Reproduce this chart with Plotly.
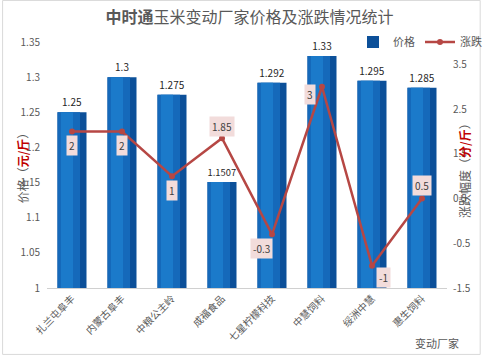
import plotly.graph_objects as go

categories = ["扎兰屯阜丰", "内蒙古阜丰", "中粮公主岭", "成福食品", "七星柠檬科技", "中慧饲料", "绥洲中慧", "惠生饲料"]
prices = [1.25, 1.3, 1.275, 1.1507, 1.292, 1.33, 1.295, 1.285]
price_labels = ["1.25", "1.3", "1.275", "1.1507", "1.292", "1.33", "1.295", "1.285"]
changes = [2, 2, 1, 1.85, -0.3, 3, -1, 0.5]
change_labels = ["2", "2", "1", "1.85", "-0.3", "3", "-1", "0.5"]
left_ticks = [1, 1.05, 1.1, 1.15, 1.2, 1.25, 1.3, 1.35]
right_ticks = [-1.5, -0.5, 0.5, 1.5, 2.5, 3.5]

FONT = "Noto Sans CJK SC"
GRAY = "#595959"
LINE = "#B64744"

fig = go.Figure()
# bar body (dark edge)
fig.add_trace(go.Bar(
    x=categories, y=prices, name="价格", width=0.58, offset=-0.29,
    marker=dict(color="#0C5099", line=dict(width=0)),
    text=price_labels, textposition="outside", cliponaxis=False,
    textfont=dict(family=FONT, size=10, color="#262626"),
    yaxis="y", showlegend=True,
))
# gradient simulation layers
fig.add_trace(go.Bar(
    x=categories, y=prices, width=0.45, offset=-0.29,
    marker=dict(color="#1569BA", line=dict(width=0)),
    yaxis="y", showlegend=False, hoverinfo="skip",
))
fig.add_trace(go.Bar(
    x=categories, y=prices, width=0.24, offset=-0.22,
    marker=dict(color="#1B7ACA", line=dict(width=0)),
    yaxis="y", showlegend=False, hoverinfo="skip",
))
fig.add_trace(go.Scatter(
    x=categories, y=changes, name="涨跌", mode="lines+markers",
    line=dict(color=LINE, width=2.5),
    marker=dict(color=LINE, size=6),
    yaxis="y2", cliponaxis=False,
))

# line data labels
offsets = [(0, 14), (0, 14), (0, 14), (0, -12), (-11, 14), (-12, 8), (11, 12), (0, -13)]
for c, v, t, (dx, dy) in zip(categories, changes, change_labels, offsets):
    fig.add_annotation(
        x=c, y=v, xref="x", yref="y2", text=t, showarrow=False,
        xshift=dx, yshift=-dy,
        bgcolor="#F2DCDB", borderpad=2,
        font=dict(family=FONT, size=10, color="#404040"),
    )

fig.update_layout(
    width=499, height=355,
    margin=dict(l=47, r=35, t=42, b=67),
    paper_bgcolor="white", plot_bgcolor="white",
    barmode="overlay",
    font=dict(family=FONT, color=GRAY, size=10),
    title=dict(
        text="<b>中时通</b>玉米变动厂家价格及涨跌情况统计",
        x=0.5, xanchor="center", y=0.952, yanchor="middle",
        font=dict(family=FONT, size=16, color=GRAY),
    ),
    xaxis=dict(
        tickangle=-45, tickfont=dict(family=FONT, size=10, color=GRAY),
        showline=True, linecolor="#D0D0D0", linewidth=1,
        showgrid=False, ticks="", range=[-0.5, 7.5],
    ),
    yaxis=dict(
        range=[1, 1.35], tickvals=left_ticks,
        ticktext=[f"{v:g}" for v in left_ticks],
        showgrid=False, zeroline=False, showline=False,
        tickfont=dict(family=FONT, size=10, color=GRAY),
        ticklabelstandoff=6,
    ),
    yaxis2=dict(
        range=[-1.5, 4], tickvals=right_ticks,
        ticktext=[f"{v:g}" for v in right_ticks],
        overlaying="y", side="right",
        showgrid=False, zeroline=False, showline=False,
        tickfont=dict(family=FONT, size=10, color=GRAY),
        ticklabelstandoff=5,
    ),
    legend=dict(
        orientation="h", x=0.765, xanchor="left", y=1.0, yanchor="middle",
        font=dict(family=FONT, size=11, color=GRAY),
        bgcolor="rgba(0,0,0,0)", itemwidth=30, tracegroupgap=0,
    ),
)

# axis titles
fig.add_annotation(
    text="价格（<span style='color:#C00000'><b>元/斤</b></span>）",
    xref="paper", yref="paper", x=-0.088, y=0.5, textangle=-90,
    showarrow=False, font=dict(family=FONT, size=12, color=GRAY),
)
fig.add_annotation(
    text="涨跌幅度（<span style='color:#C00000'><b>分/斤</b></span>）",
    xref="paper", yref="paper", x=1.07, y=0.49, textangle=-90,
    showarrow=False, font=dict(family=FONT, size=12, color=GRAY),
)
fig.add_annotation(
    text="变动厂家", xref="paper", yref="paper", x=1.035, y=-0.225,
    xanchor="right", yanchor="middle", showarrow=False,
    font=dict(family=FONT, size=11, color=GRAY),
)
# frame
fig.add_shape(
    type="rect", xref="paper", yref="paper",
    x0=-0.111, x1=1.083, y0=-0.27, y1=1.169,
    line=dict(color="#D9D9D9", width=1), fillcolor="rgba(0,0,0,0)", layer="below",
)

fig.write_html("out.html")
